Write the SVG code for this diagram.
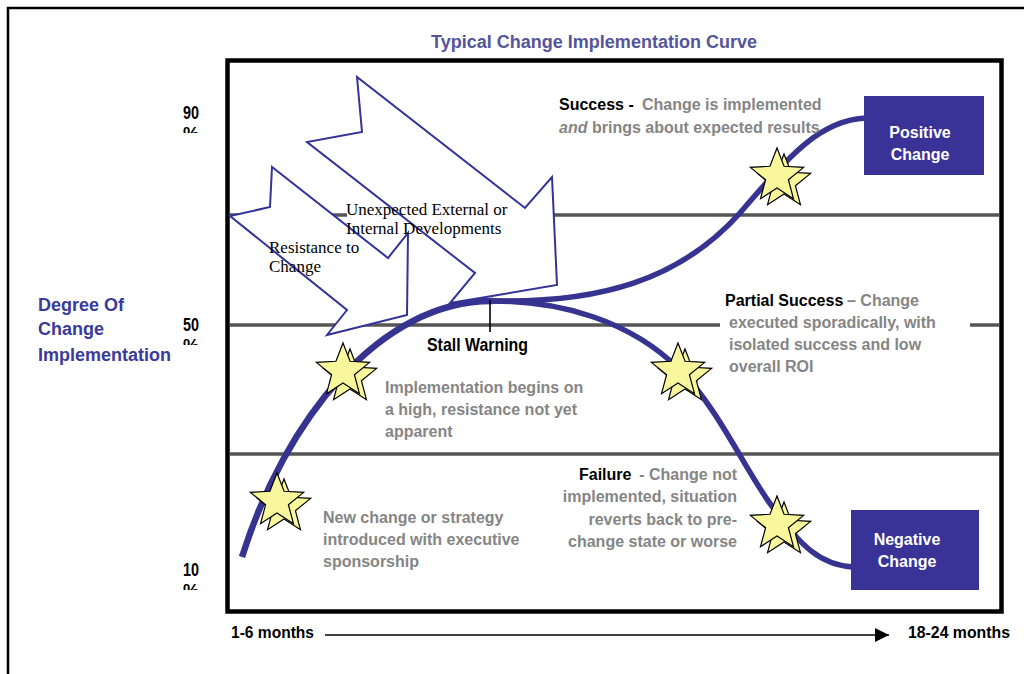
<svg xmlns="http://www.w3.org/2000/svg" xmlns:xlink="http://www.w3.org/1999/xlink" width="1024" height="674" viewBox="0 0 1024 674">
<style>
.sans{font-family:'Liberation Sans',Arial,sans-serif;font-weight:bold}
.narrow{font-family:'Liberation Sans Narrow','Liberation Sans',Arial,sans-serif;font-weight:bold}
.serif{font-family:'Liberation Serif','Times New Roman',serif;font-size:17px;fill:#000}
.desc{font-size:16px;fill:#858585}
.blk{fill:#000}
.grid{stroke:#555;stroke-width:3.5;fill:none}
.arrow{fill:#fff;stroke:#333399;stroke-width:2;stroke-linejoin:miter}
.curve{fill:none;stroke:#363391;stroke-linecap:butt}
.st{fill:#f9f79b;stroke:#000;stroke-width:1.2;stroke-linejoin:miter}
.box{fill:#3a3397}
.boxt{font-size:16px;fill:#fff}
.ylab{font-size:18px;fill:#000}
</style>
<defs>
<g id="star">
<polygon class="st" transform="translate(7,6)" points="0,-28 7.05,-9.71 26.63,-8.65 11.41,3.71 16.46,22.65 0,12 -16.46,22.65 -11.41,3.71 -26.63,-8.65 -7.05,-9.71"/>
<polygon class="st" points="0,-28 7.05,-9.71 26.63,-8.65 11.41,3.71 16.46,22.65 0,12 -16.46,22.65 -11.41,3.71 -26.63,-8.65 -7.05,-9.71"/>
</g>
<clipPath id="c90"><rect x="170" y="120" width="40" height="13"/></clipPath>
<clipPath id="c50"><rect x="170" y="332" width="40" height="13"/></clipPath>
<clipPath id="c10"><rect x="170" y="577" width="40" height="13"/></clipPath>
<marker id="ah" markerWidth="14" markerHeight="14" refX="14" refY="7" orient="auto" markerUnits="userSpaceOnUse">
<path d="M0,0 L14,7 L0,14 Z" fill="#000"/>
</marker>
</defs>
<rect width="1024" height="674" fill="#fff"/>
<g id="page-frame">
<path d="M8,674 V8 H1024" fill="none" stroke="#000" stroke-width="2.5"/>
</g>
<g id="title">
<text class="sans" x="594" y="48" text-anchor="middle" font-size="18" fill="#55559b" textLength="326" lengthAdjust="spacingAndGlyphs">Typical Change Implementation Curve</text>
</g>
<g id="y-axis">
<text class="sans" x="38" y="311" font-size="18" fill="#3a3a9a">Degree Of</text>
<text class="sans" x="38" y="335" font-size="18" fill="#3a3a9a">Change</text>
<text class="sans" x="38" y="361" font-size="18" fill="#3a3a9a">Implementation</text>
<text class="narrow ylab" x="183" y="119" textLength="16" lengthAdjust="spacingAndGlyphs">90</text>
<text class="narrow ylab" x="183" y="140" clip-path="url(#c90)">%</text>
<text class="narrow ylab" x="183" y="331" textLength="16" lengthAdjust="spacingAndGlyphs">50</text>
<text class="narrow ylab" x="183" y="352" clip-path="url(#c50)">%</text>
<text class="narrow ylab" x="183" y="576" textLength="16" lengthAdjust="spacingAndGlyphs">10</text>
<text class="narrow ylab" x="183" y="597" clip-path="url(#c10)">%</text>
</g>
<g id="chart-box">
<rect x="227.5" y="60.5" width="774" height="551" fill="none" stroke="#000" stroke-width="4.5"/>
</g>
<g id="grid-lines">
<line class="grid" x1="230" y1="215" x2="999" y2="215"/>
<line class="grid" x1="230" y1="325" x2="720" y2="325"/>
<line class="grid" x1="970" y1="325" x2="999" y2="325"/>
<line class="grid" x1="230" y1="454" x2="999" y2="454"/>
</g>
<rect x="347" y="203" width="55" height="36" fill="#fff"/>
<g id="arrow-unexpected">
<polygon class="arrow" points="357,77 362,132 307,142 475,273 450,303 557,285 552,177 525,208"/>
</g>
<g id="arrow-resistance">
<polygon class="arrow" points="272,167 270,207 230,216 347,310 327,335 407,315 408,233 388,258"/>
</g>
<g id="arrow-labels">
<text class="serif" x="346" y="215">Unexpected External or</text>
<text class="serif" x="346" y="234">Internal Developments</text>
<text class="serif" x="269" y="253">Resistance to</text>
<text class="serif" x="269" y="272">Change</text>
</g>
<g id="connectors">
<path class="curve" stroke-width="6.5" d="M242,557 C285,420 380,300 493,301"/>
<path class="curve" stroke-width="5.5" d="M493,301 C600,303 680,280 740,213 C790,155 820,120 866,118"/>
<path class="curve" stroke-width="5.5" d="M493,301 C560,301 630,320 680,370 C720,410 750,480 775,510 C800,545 820,565 853,567"/>
<line x1="490" y1="300" x2="490" y2="332" stroke="#000" stroke-width="1.6"/>
<line x1="325" y1="635" x2="889" y2="635" stroke="#000" stroke-width="1.6" marker-end="url(#ah)"/>
</g>
<g id="stall-warning">
<text class="narrow" x="427" y="351" font-size="19" fill="#000" textLength="101" lengthAdjust="spacingAndGlyphs">Stall Warning</text>
</g>
<g id="stars">
<use xlink:href="#star" x="277" y="501"/>
<use xlink:href="#star" x="343" y="371"/>
<use xlink:href="#star" x="777" y="176"/>
<use xlink:href="#star" x="678" y="371"/>
<use xlink:href="#star" x="777" y="524"/>
</g>
<g id="positive-change">
<rect class="box" x="864" y="96" width="120" height="79"/>
<text class="sans boxt" x="920" y="138" text-anchor="middle">Positive</text>
<text class="sans boxt" x="920" y="160" text-anchor="middle">Change</text>
</g>
<g id="negative-change">
<rect class="box" x="851" y="510" width="128" height="80"/>
<text class="sans boxt" x="907" y="545" text-anchor="middle">Negative</text>
<text class="sans boxt" x="907" y="567" text-anchor="middle">Change</text>
</g>
<g id="success-text" class="sans desc">
<text x="559" y="110"><tspan class="blk">Success -</tspan><tspan x="642">Change is implemented</tspan></text>
<text x="559" y="133"><tspan font-style="italic">and</tspan><tspan x="592">brings about expected results</tspan></text>
</g>
<g id="partial-text" class="sans desc">
<text x="725" y="306"><tspan class="blk">Partial Success</tspan><tspan x="847">– Change</tspan></text>
<text x="729" y="328">executed sporadically, with</text>
<text x="729" y="350">isolated success and low</text>
<text x="729" y="372">overall ROI</text>
</g>
<g id="begin-text" class="sans desc">
<text x="385" y="393">Implementation begins on</text>
<text x="385" y="415">a high, resistance not yet</text>
<text x="385" y="437">apparent</text>
</g>
<g id="new-text" class="sans desc">
<text x="323" y="523">New change or strategy</text>
<text x="323" y="545">introduced with executive</text>
<text x="323" y="567">sponsorship</text>
</g>
<g id="failure-text" class="sans desc">
<text x="579" y="480" class="blk">Failure</text>
<text x="737" y="480" text-anchor="end">- Change not</text>
<text x="737" y="502" text-anchor="end">implemented, situation</text>
<text x="737" y="525" text-anchor="end">reverts back to pre-</text>
<text x="737" y="547" text-anchor="end">change state or worse</text>
</g>
<g id="x-axis">
<text class="narrow" x="231" y="638" font-size="17" fill="#000" textLength="83" lengthAdjust="spacingAndGlyphs">1-6 months</text>
<text class="narrow" x="908" y="638" font-size="17" fill="#000" textLength="102" lengthAdjust="spacingAndGlyphs">18-24 months</text>
</g>
</svg>
